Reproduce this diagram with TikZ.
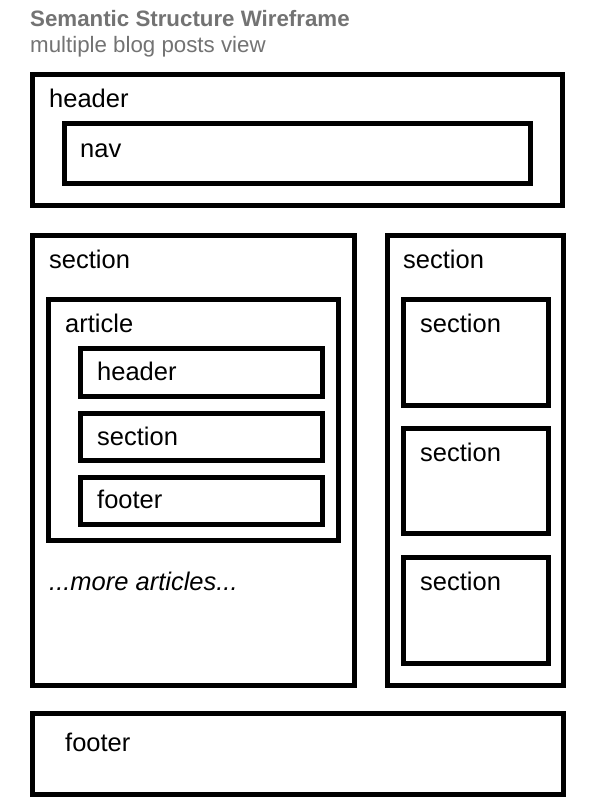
\documentclass[tikz,border=0pt]{standalone}
\usepackage{fontspec}
\setmainfont{Liberation Sans}
\begin{document}
\begin{tikzpicture}[x=1pt,y=-1pt,
  box/.style={draw=black,line width=5pt},
  lbl/.style={anchor=base west,inner sep=0pt,font=\fontsize{25.5}{30}\selectfont},
  ttl/.style={anchor=base west,inner sep=0pt,text=black!55}]
\useasboundingbox[fill=white] (0,0) rectangle (600,812);
% heading
\node[ttl,font=\fontsize{22.3}{26}\bfseries] (title) at (30,26) {Semantic Structure Wireframe};
\node[ttl,font=\fontsize{22.3}{26}\selectfont] (subtitle) at (30,52) {multiple blog posts view};
% page header with navigation
\draw[box] (32.5,74.5) rectangle (562.5,205.5);
\node[lbl] (hdr) at (49,107) {header};
\draw[box] (64.5,123.5) rectangle (530.5,183.5);
\node[lbl] (nav) at (80,157) {nav};
% main section with articles
\draw[box] (32.5,235.5) rectangle (354.5,685.5);
\node[lbl] (mainsec) at (49,268) {section};
\draw[box] (48.5,299.5) rectangle (338.5,540.5);
\node[lbl] (article) at (65,332) {article};
\draw[box] (80.5,348.5) rectangle (322.5,396.5);
\node[lbl] (arthdr) at (97,380) {header};
\draw[box] (80.5,413.5) rectangle (322.5,460.5);
\node[lbl] (artsec) at (97,445) {section};
\draw[box] (80.5,477.5) rectangle (322.5,524.5);
\node[lbl] (artftr) at (97,508) {footer};
\node[lbl,font=\fontsize{25.5}{30}\itshape] (more) at (49,590) {...more articles...};
% sidebar section
\draw[box] (387.5,235.5) rectangle (563.5,685.5);
\node[lbl] (sidesec) at (403,268) {section};
\draw[box] (403.5,299.5) rectangle (548.5,405.5);
\node[lbl] (sidea) at (420,332) {section};
\draw[box] (403.5,428.5) rectangle (548.5,533.5);
\node[lbl] (sideb) at (420,461) {section};
\draw[box] (403.5,557.5) rectangle (548.5,663.5);
\node[lbl] (sidec) at (420,590) {section};
% page footer
\draw[box] (32.5,713.5) rectangle (563.5,794.5);
\node[lbl] (ftr) at (65,751) {footer};
\end{tikzpicture}
\end{document}
